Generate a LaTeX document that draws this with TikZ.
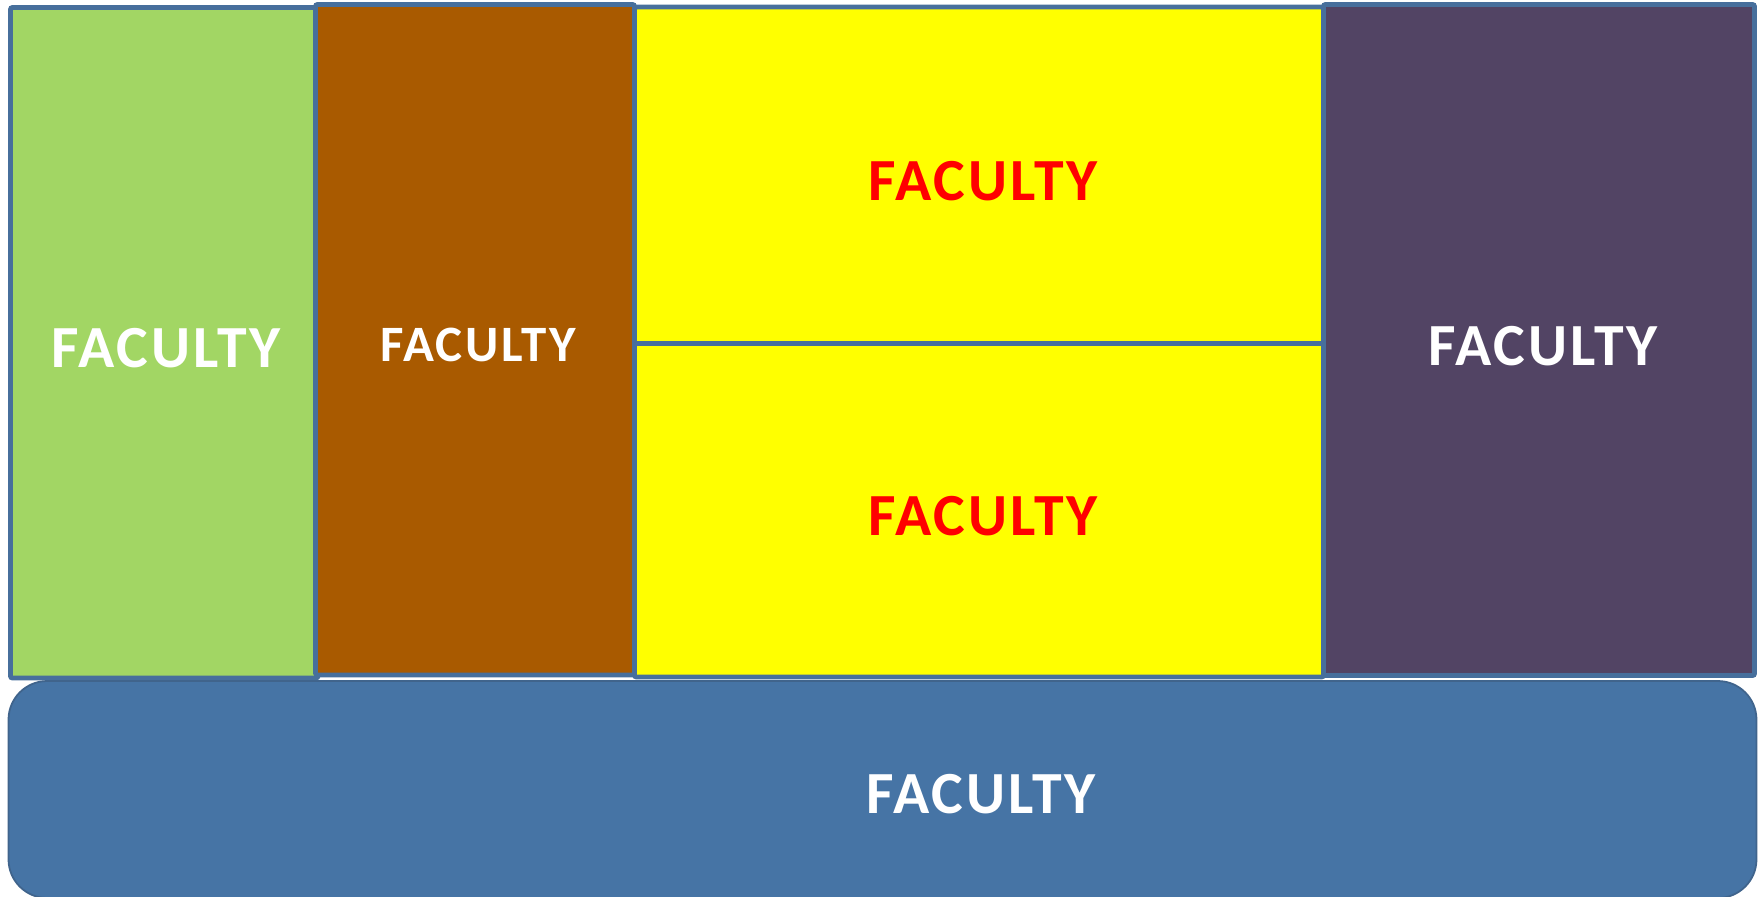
\documentclass[tikz,border=0pt]{standalone}
\usepackage{fontspec}
\setmainfont{Carlito}
\usetikzlibrary{calc}

\definecolor{edgeblue}{RGB}{71,111,156}
\definecolor{facgreen}{RGB}{162,214,100}
\definecolor{facbrown}{RGB}{169,90,0}
\definecolor{facyellow}{RGB}{255,255,0}
\definecolor{facpurple}{RGB}{82,68,100}
\definecolor{facblue}{RGB}{70,116,165}
\definecolor{facred}{RGB}{255,0,0}

\newfontfamily\facfont[LetterSpace=5]{Carlito}

\tikzset{
  facbox/.style={draw=edgeblue,line width=1.4pt,rounded corners=0.6pt},
  faclabel/.style={inner sep=0pt,anchor=center,font=\facfont\fontsize{17pt}{19pt}\selectfont\bfseries},
}

\begin{document}
\begin{tikzpicture}[x=0.01cm,y=-0.01cm]
\useasboundingbox (0,0) rectangle (1762,896);

% columns and the two yellow rooms
\draw[facbox,fill=facgreen] (10.5,7.5) rectangle (318,678);
\draw[facbox,fill=facyellow] (634.5,7) rectangle (1323.5,343.5);
\draw[facbox,fill=facyellow] (634.5,343.5) rectangle (1323.5,677);
\draw[facbox,fill=facbrown] (315.5,4.5) rectangle (634.5,675);
\draw[facbox,fill=facpurple] (1323.5,4.5) rectangle (1754.5,675.5);

% base
\draw[draw=edgeblue!90!black,line width=0.5pt,fill=facblue,rounded corners=11pt] (8.5,681) rectangle (1756.5,898);

\node[faclabel,text=white] (green) at (166,348) {FACULTY};
\node[faclabel,text=white,font=\facfont\fontsize{14.5pt}{16pt}\selectfont\bfseries] (brown) at (478,345) {FACULTY};
\node[faclabel,text=facred] (yellowtop) at (983,181) {FACULTY};
\node[faclabel,text=facred] (yellowbot) at (983,516) {FACULTY};
\node[faclabel,text=white] (purple) at (1543,346) {FACULTY};
\node[faclabel,text=white] (base) at (981,794) {FACULTY};

\end{tikzpicture}
\end{document}
